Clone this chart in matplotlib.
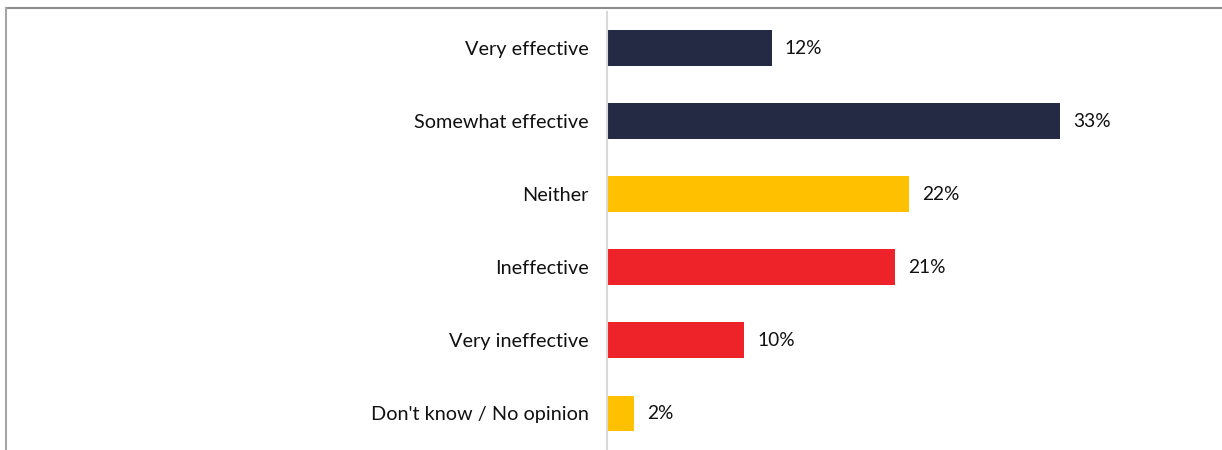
import matplotlib
matplotlib.use("Agg")
import matplotlib.pyplot as plt
from matplotlib.lines import Line2D

categories = ["Very effective", "Somewhat effective", "Neither", "Ineffective",
              "Very ineffective", "Don't know / No opinion"]
values = [12, 33, 22, 21, 10, 2]
colors = ["#252A44", "#252A44", "#FFC000", "#EE2229", "#EE2229", "#FFC000"]
value_labels = ["12%", "33%", "22%", "21%", "10%", "2%"]

W, H = 1222, 450
fig = plt.figure(figsize=(W / 100, H / 100), dpi=100)
plt.rcParams['font.family'] = ['Lato', 'DejaVu Sans']

ax_left = 607 / W
ax_right = 1215 / W
ax_top = 1 - 11.5 / H
ax_bottom = 0.0
ax = fig.add_axes([ax_left, ax_bottom, ax_right - ax_left, ax_top - ax_bottom])

y = list(range(len(categories)))
ax.barh(y, values, height=0.49, color=colors)
ax.set_ylim(len(categories) - 0.5, -0.5)
ax.set_xlim(0, (1215 - 607) / 13.73)
ax.set_yticks(y)
ax.set_yticklabels(categories, fontsize=14.3, color="#111111")
ax.tick_params(axis='y', length=0, pad=13)
ax.set_xticks([])
for s in ["top", "right", "bottom"]:
    ax.spines[s].set_visible(False)
ax.spines["left"].set_color("#D9D9D9")
ax.spines["left"].set_linewidth(1.5)

for yi, v, lab in zip(y, values, value_labels):
    ax.annotate(lab, xy=(v, yi), xytext=(13, 0), textcoords="offset pixels",
                va="center", ha="left", fontsize=13.8, color="#111111")

# outer frame lines (top and left)
fig.add_artist(Line2D([5.5 / W, 1.0], [1 - 8 / H, 1 - 8 / H], transform=fig.transFigure,
                      color="#8C8C8C", linewidth=1.5))
fig.add_artist(Line2D([5.5 / W, 5.5 / W], [0, 1 - 8 / H], transform=fig.transFigure,
                      color="#A6A6A6", linewidth=1.5))

fig.savefig("out.png", dpi=100)
